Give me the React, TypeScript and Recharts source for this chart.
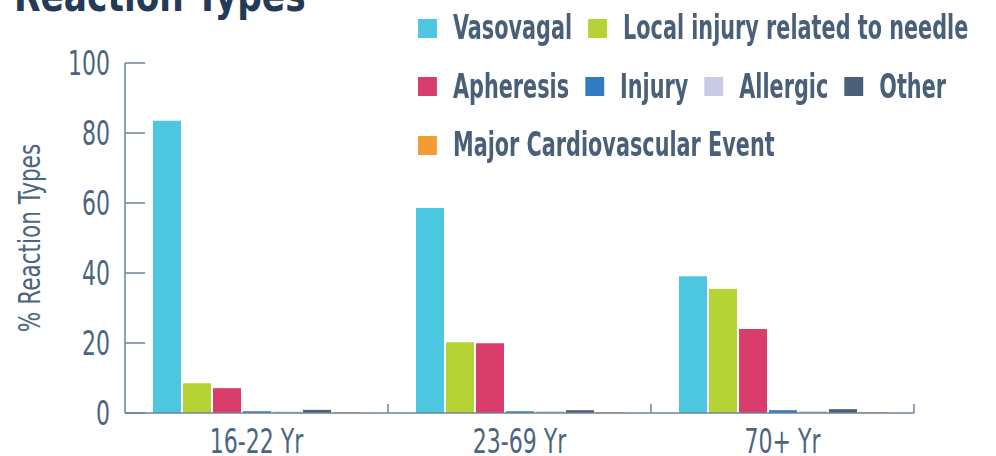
import React from "react";
import { Bar, BarChart, XAxis, YAxis } from "recharts";

const categories = ["16-22 Yr", "23-69 Yr", "70+ Yr"];
const vasovagal = [83.5, 58.6, 39.1];
const localInjury = [8.5, 20.2, 35.4];
const apheresis = [7.1, 19.9, 24.0];
const injury = [0.5, 0.5, 0.8];
const allergic = [0.4, 0.5, 0.5];
const other = [0.9, 0.8, 1.1];
const majorCardio = [0.2, 0.2, 0.2];
const yTicks = [0, 20, 40, 60, 80, 100];

const series = [
  { key: "vasovagal", name: "Vasovagal", color: "#4dc6e0", values: vasovagal },
  { key: "local", name: "Local injury related to needle", color: "#b5d334", values: localInjury },
  { key: "apheresis", name: "Apheresis", color: "#d83d6c", values: apheresis },
  { key: "injury", name: "Injury", color: "#317cc1", values: injury },
  { key: "allergic", name: "Allergic", color: "#c7cbe6", values: allergic },
  { key: "other", name: "Other", color: "#4a6079", values: other },
  { key: "major", name: "Major Cardiovascular Event", color: "#f39c34", values: majorCardio },
];

// how the legend wraps in the original
const legendRows = [
  ["vasovagal", "local"],
  ["apheresis", "injury", "allergic", "other"],
  ["major"],
];

const data = categories.map((cat, i) => {
  const row: Record<string, string | number> = { category: cat };
  series.forEach((s) => (row[s.key] = s.values[i]));
  return row;
});

// no narrow font installed, so condensed text gets squeezed horizontally
const FONT = '"DejaVu Sans Condensed", "Liberation Sans Narrow", sans-serif';
const TEXT = "#4b6580";
const AXIS = "#6f8296";
const SQUEEZE = 0.72;
const LEGEND_SQUEEZE = 0.7;

const YTick = (props: any) => {
  const { x, y, payload } = props;
  return (
    <g>
      <line x1={x} x2={x + 20} y1={y} y2={y} stroke={AXIS} strokeWidth={1.5} />
      <text
        transform={`translate(${x - 15}, ${y + 12}) scale(${SQUEEZE}, 1)`}
        textAnchor="end"
        fill={TEXT}
        fontSize={34}
        fontFamily={FONT}
      >
        {payload.value}
      </text>
    </g>
  );
};

const XTick = (props: any) => {
  const { x, y, payload } = props;
  const half = payload.offset ?? 131.5;
  return (
    <g>
      <line x1={x + half} x2={x + half} y1={y} y2={y - 9} stroke={AXIS} strokeWidth={1.5} />
      <text
        transform={`translate(${x}, ${y + 40}) scale(${SQUEEZE}, 1)`}
        textAnchor="middle"
        fill={TEXT}
        fontSize={34}
        fontFamily={FONT}
      >
        {payload.value}
      </text>
    </g>
  );
};

const YLabel = (props: any) => {
  const { viewBox } = props;
  const cx = viewBox.x + 30;
  const cy = viewBox.y + viewBox.height / 2;
  return (
    <text
      transform={`translate(${cx}, ${cy}) rotate(-90) scale(0.8, 1)`}
      textAnchor="middle"
      dominantBaseline="central"
      fill={TEXT}
      fontSize={30}
      fontFamily={FONT}
    >
      % Reaction Types
    </text>
  );
};

export default function App() {
  return (
    <div style={{ position: "absolute", left: 0, top: 0, width: 996, height: 456, overflow: "hidden", background: "#fff" }}>
      <div
        style={{
          position: "absolute",
          left: 14,
          top: -31,
          fontFamily: FONT,
          fontWeight: 700,
          fontSize: 45,
          lineHeight: "54px",
          color: "#243b58",
          whiteSpace: "nowrap",
          transform: "scaleX(0.85)",
          transformOrigin: "left top",
        }}
      >
        Reaction Types
      </div>

      <BarChart
        width={996}
        height={456}
        data={data}
        margin={{ top: 63, right: 82, bottom: 0, left: 0 }}
        barSize={28}
        barGap={2}
      >
        <XAxis
          dataKey="category"
          height={43}
          axisLine={{ stroke: AXIS, strokeWidth: 1.5 }}
          tickLine={false}
          tickSize={0}
          tickMargin={0}
          tick={<XTick />}
          interval={0}
        />
        <YAxis
          width={125}
          domain={[0, 100]}
          ticks={yTicks}
          axisLine={{ stroke: AXIS, strokeWidth: 1.5 }}
          tickLine={false}
          tickSize={0}
          tickMargin={0}
          tick={<YTick />}
          label={<YLabel />}
        />
        {series.map((s) => (
          <Bar key={s.key} dataKey={s.key} name={s.name} fill={s.color} isAnimationActive={false} />
        ))}
      </BarChart>

      <div
        style={{
          position: "absolute",
          left: 418,
          top: 0,
          transform: `scaleX(${LEGEND_SQUEEZE})`,
          transformOrigin: "left top",
        }}
      >
        {legendRows.map((row, ri) => (
          <div
            key={ri}
            style={{
              position: "absolute",
              left: 0,
              top: 8 + ri * 58.5,
              height: 40,
              display: "flex",
              alignItems: "center",
              gap: 16 / LEGEND_SQUEEZE,
              whiteSpace: "nowrap",
            }}
          >
            {row.map((k) => {
              const s = series.find((x) => x.key === k)!;
              return (
                <div key={k} style={{ display: "flex", alignItems: "center" }}>
                  <span
                    style={{
                      width: 19 / LEGEND_SQUEEZE,
                      height: 19,
                      background: s.color,
                      marginRight: 16 / LEGEND_SQUEEZE,
                      display: "inline-block",
                    }}
                  />
                  <span
                    style={{
                      fontFamily: FONT,
                      fontWeight: 700,
                      fontSize: 33,
                      color: "#4a6079",
                      lineHeight: "40px",
                    }}
                  >
                    {s.name}
                  </span>
                </div>
              );
            })}
          </div>
        ))}
      </div>
    </div>
  );
}
